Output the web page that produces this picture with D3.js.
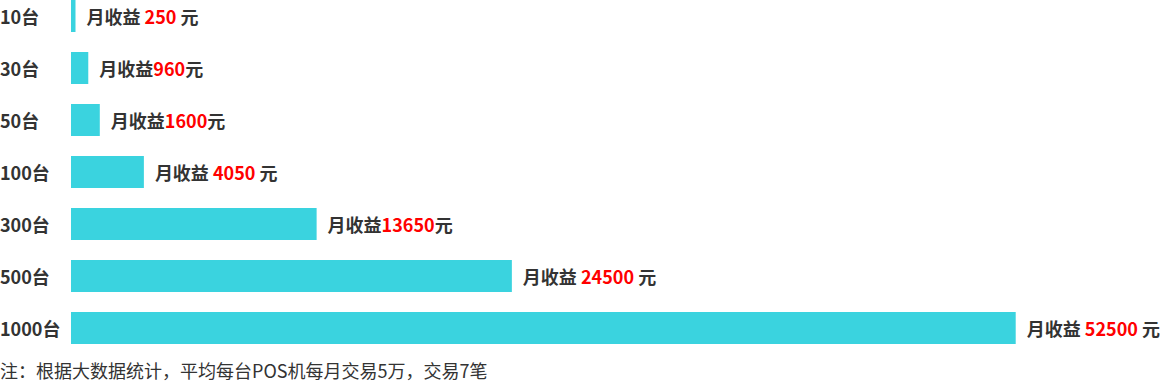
<!DOCTYPE html>
<html>
<head>
<meta charset="utf-8">
<script src="https://d3js.org/d3.v7.min.js"></script>
<style>
  body { margin: 0; background: #fff; }
  text { font-family: "Noto Sans CJK SC", "Noto Sans", sans-serif; }
</style>
</head>
<body>
<svg class="chart"></svg>
<script>
var categories = ['10台', '30台', '50台', '100台', '300台', '500台', '1000台'];
var values = [250, 960, 1600, 4050, 13650, 24500, 52500];
var labelPre = ['月收益 ', '月收益', '月收益', '月收益 ', '月收益', '月收益 ', '月收益 '];
var labelPost = [' 元', '元', '元', ' 元', '元', ' 元', ' 元'];
var note = '注：根据大数据统计，平均每台POS机每月交易5万，交易7笔';

var rows = categories.map((c, i) => ({ cat: c, value: values[i], pre: labelPre[i], post: labelPost[i] }));

var svg = d3.select('.chart')
            .attr('width', 1160)
            .attr('height', 383);

var left = 71;

var xScale = d3.scaleLinear()
               .domain([0, 52500])
               .range([0, 944.7]);

var yScale = d3.scaleBand()
               .domain(categories)
               .range([0, 344])
               .paddingInner(20 / 52)
               .paddingOuter(0);

var g = svg.append('g');

g.selectAll('.bar').data(rows)
 .enter()
 .append('rect')
 .attr('class', 'bar')
 .attr('x', left)
 .attr('y', d => yScale(d.cat))
 .attr('width', d => xScale(d.value))
 .attr('height', yScale.bandwidth())
 .attr('fill', '#3ad3df');

// category labels
g.selectAll('.cat').data(rows)
 .enter()
 .append('text')
 .attr('class', 'cat')
 .attr('x', 0)
 .attr('y', d => yScale(d.cat) + yScale.bandwidth() / 2)
 .attr('dominant-baseline', 'central')
 .attr('font-size', 18)
 .attr('font-weight', 'bold')
 .attr('fill', '#333')
 .text(d => d.cat);

// value labels
var lab = g.selectAll('.val').data(rows)
 .enter()
 .append('text')
 .attr('class', 'val')
 .attr('x', d => left + xScale(d.value) + 11)
 .attr('y', d => yScale(d.cat) + yScale.bandwidth() / 2)
 .attr('dominant-baseline', 'central')
 .attr('font-size', 18)
 .attr('font-weight', 'bold')
 .attr('fill', '#333')
 .attr('xml:space', 'preserve');

lab.append('tspan').text(d => d.pre);
lab.append('tspan').attr('fill', '#ff0000').text(d => d.value);
lab.append('tspan').text(d => d.post);

// footnote
svg.append('text')
   .attr('x', 0)
   .attr('y', 370)
   .attr('dominant-baseline', 'central')
   .attr('font-size', 18)
   .attr('fill', '#333')
   .text(note);
</script>
</body>
</html>
